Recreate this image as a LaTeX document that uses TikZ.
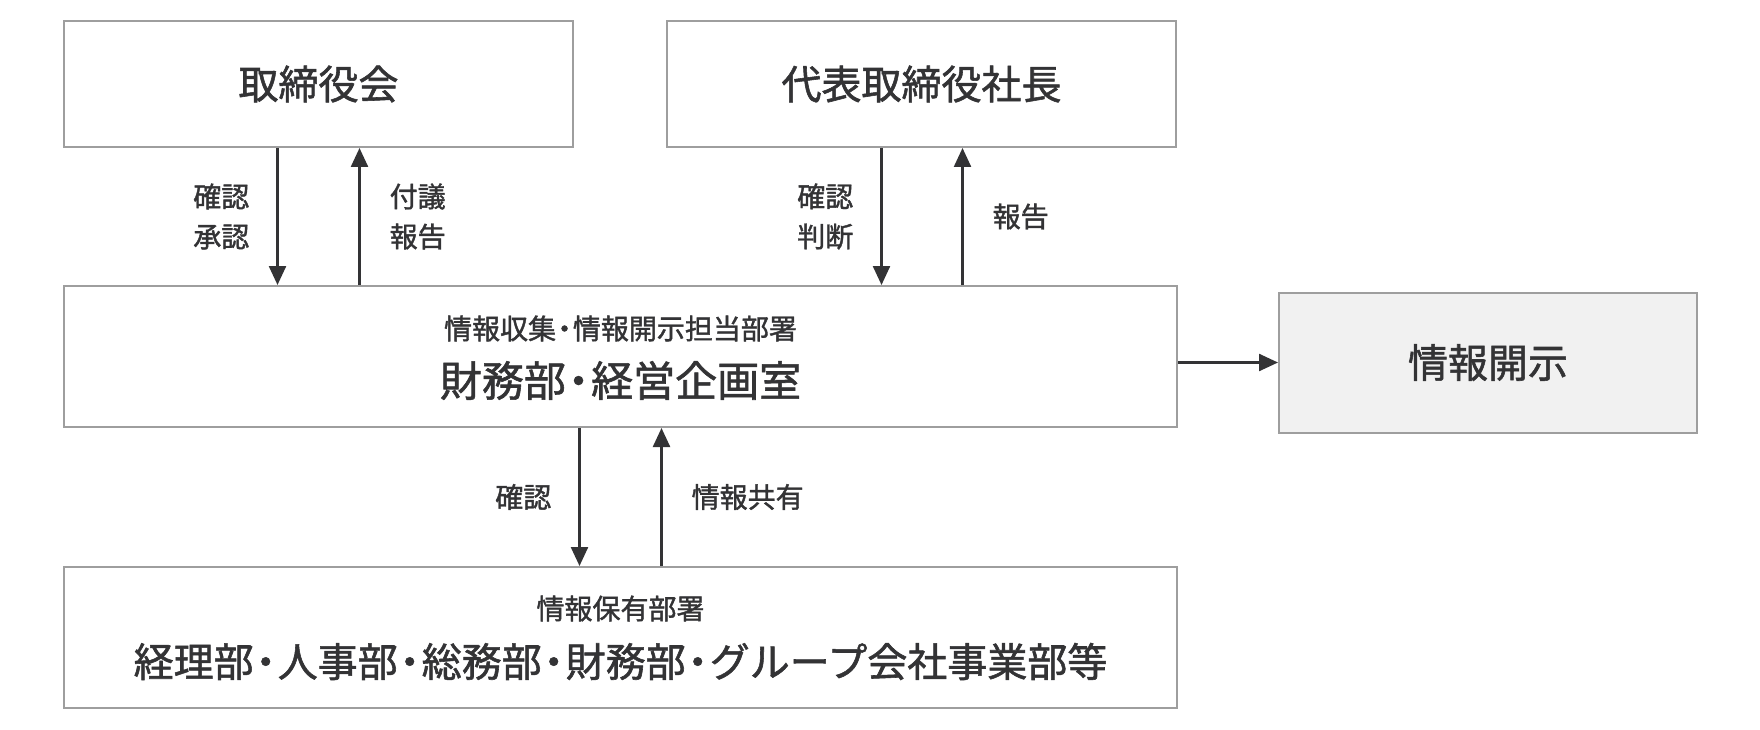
\documentclass[tikz,border=0pt]{standalone}
\usepackage{fontspec}
\setmainfont{Noto Sans CJK JP}[RawFeature={embolden=1.4}]
\usetikzlibrary{positioning,arrows.meta}
\definecolor{ink}{HTML}{333335}
\definecolor{frame}{HTML}{9E9E9E}
\definecolor{pale}{HTML}{F1F1F1}
\newcommand{\bigfont}{\fontsize{40pt}{48pt}\selectfont}
\newcommand{\smallfont}{\fontsize{28pt}{40pt}\selectfont}
\newcommand{\ndot}{\kern-.2em・\kern-.2em}

\begin{document}
\begin{tikzpicture}[x=1pt,y=1pt,
        box/.style={draw=frame,line width=2pt,text=ink,font=\bigfont,inner sep=0pt},
        flow/.style={draw=ink,line width=2.4pt,-{Triangle[width=17pt,length=19pt]}},
        lbl/.style={text=ink,font=\smallfont,align=center,inner sep=0pt},
        subtxt/.style={text=ink,font=\smallfont,inner sep=0pt},
        maintxt/.style={text=ink,font=\bigfont,inner sep=0pt}]
    \useasboundingbox (0,0) rectangle (1760,-730);
    \node[box,anchor=north west,minimum width=509pt,minimum height=126pt] (board) at (63,-20) {取締役会};
    \node[box,right=92pt of board,minimum width=509pt,minimum height=126pt] (president) {代表取締役社長};
    \node[box,below=137pt of board.south west,anchor=north west,minimum width=1113pt,minimum height=141pt] (dept) {};
    \node[subtxt] (deptsub) at ([yshift=28pt]dept.center) {情報収集\ndot 情報開示担当部署};
    \node[maintxt,font=\fontsize{42pt}{48pt}\selectfont] (deptmain) at ([yshift=-24pt]dept.center) {財務部\ndot 経営企画室};
    \node[box,below=138pt of dept,minimum width=1113pt,minimum height=141pt] (holder) {};
    \node[subtxt] (holdersub) at ([yshift=29pt]holder.center) {情報保有部署};
    \node[maintxt] (holdermain) at ([yshift=-24pt]holder.center) {経理部\ndot 人事部\ndot 総務部\ndot 財務部\ndot グループ会社事業部等};
    \node[box,fill=pale,right=100pt of dept,yshift=-6pt,minimum width=418pt,minimum height=140pt] (disclose) {情報開示};

    \draw[flow] ([xshift=-41pt]board.south) -- ([xshift=-41pt]board.south |- dept.north)
        node[lbl,midway,left=27pt] {確認\\承認};
    \draw[flow] ([xshift=41pt]board.south |- dept.north) -- ([xshift=41pt]board.south)
        node[lbl,midway,right=29pt] {付議\\報告};
    \draw[flow] ([xshift=-40pt]president.south) -- ([xshift=-40pt]president.south |- dept.north)
        node[lbl,midway,left=27pt] {確認\\判断};
    \draw[flow] ([xshift=41pt]president.south |- dept.north) -- ([xshift=41pt]president.south)
        node[lbl,midway,right=29pt] {報告};
    \draw[flow] ([xshift=-41pt]dept.south) -- ([xshift=-41pt]dept.south |- holder.north)
        node[lbl,midway,left=27pt] {確認};
    \draw[flow] ([xshift=41pt]dept.south |- holder.north) -- ([xshift=41pt]dept.south)
        node[lbl,midway,right=29pt] {情報共有};
    \draw[flow] (dept.east |- disclose.west) -- (disclose.west);
\end{tikzpicture}
\end{document}
